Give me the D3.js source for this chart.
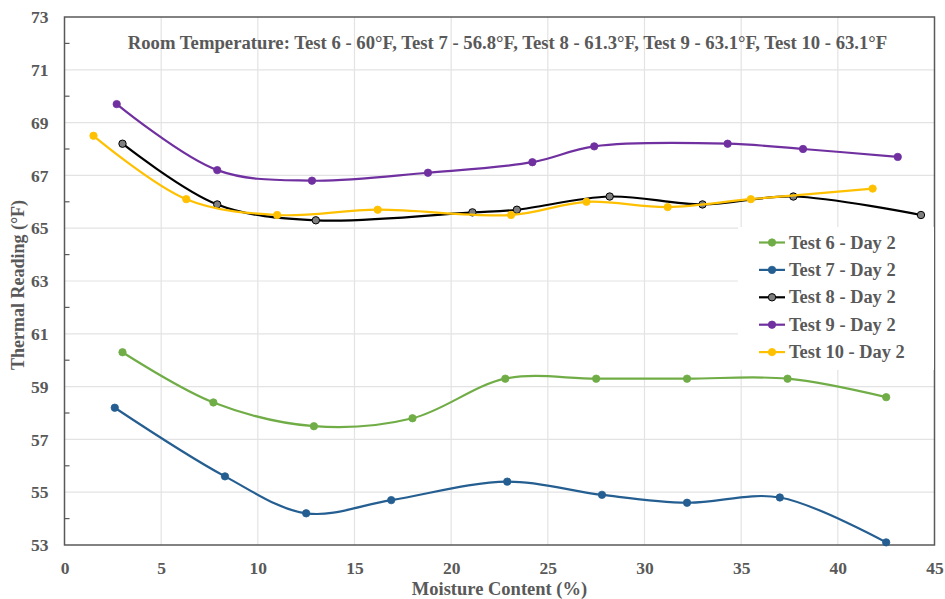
<!DOCTYPE html>
<html>
<head>
<meta charset="utf-8">
<script src="https://cdn.jsdelivr.net/npm/d3@7"></script>
<style>
  html, body { margin: 0; padding: 0; background: #fff; }
  svg { display: block; }
  text { font-family: "Liberation Serif", "Times New Roman", serif; font-weight: bold; fill: #595959; }
</style>
</head>
<body>
<svg id="chart" width="945" height="599"></svg>
<script>
// Moisture content (%) and thermal reading (°F) for each test, day 2
const test6X = [3.0, 7.7, 12.9, 18.0, 22.8, 27.5, 32.2, 37.4, 42.5];
const test6Y = [60.3, 58.4, 57.5, 57.8, 59.3, 59.3, 59.3, 59.3, 58.6];

const test7X = [2.6, 8.3, 12.5, 16.9, 22.9, 27.8, 32.2, 37.0, 42.5];
const test7Y = [58.2, 55.6, 54.2, 54.7, 55.4, 54.9, 54.6, 54.8, 53.1];

const test8X = [3.0, 7.9, 13.0, 21.1, 23.4, 28.2, 33.0, 37.7, 44.3];
const test8Y = [68.2, 65.9, 65.3, 65.6, 65.7, 66.2, 65.9, 66.2, 65.5];

const test9X = [2.7, 7.9, 12.8, 18.8, 24.2, 27.4, 34.3, 38.2, 43.1];
const test9Y = [69.7, 67.2, 66.8, 67.1, 67.5, 68.1, 68.2, 68.0, 67.7];

const test10X = [1.5, 6.3, 11.0, 16.2, 23.1, 27.0, 31.2, 35.5, 41.8];
const test10Y = [68.5, 66.1, 65.5, 65.7, 65.5, 66.0, 65.8, 66.1, 66.5];

const seriesNames = ["Test 6 - Day 2", "Test 7 - Day 2", "Test 8 - Day 2", "Test 9 - Day 2", "Test 10 - Day 2"];
const seriesX = [test6X, test7X, test8X, test9X, test10X];
const seriesY = [test6Y, test7Y, test8Y, test9Y, test10Y];

const xTicks = [0, 5, 10, 15, 20, 25, 30, 35, 40, 45];
const yTicks = [53, 55, 57, 59, 61, 63, 65, 67, 69, 71, 73];
const yMinorTicks = [54, 56, 58, 60, 62, 64, 66, 68, 70, 72];

const titleText = "Room Temperature: Test 6 - 60°F, Test 7 - 56.8°F, Test 8 - 61.3°F, Test 9 - 63.1°F, Test 10 - 63.1°F";
const xTitle = "Moisture Content (%)";
const yTitle = "Thermal Reading (°F)";

// Line and marker styling per series
const lineColors = ["#70AD47", "#255E91", "#000000", "#7030A0", "#FFC000"];
const markerFill = ["#70AD47", "#255E91", "#7F7F7F", "#7030A0", "#FFC000"];
const markerStroke = ["#70AD47", "#255E91", "#000000", "#7030A0", "#FFC000"];

const svg = d3.select("#chart");
const plot = { left: 64.5, right: 934.5, top: 17, bottom: 545 };

const x = d3.scaleLinear().domain([0, 45]).range([plot.left, plot.right]);
const y = d3.scaleLinear().domain([53, 73]).range([plot.bottom, plot.top]);

// Gridlines
const grid = svg.append("g");
grid.selectAll("line.v").data(xTicks.slice(1, -1)).join("line")
  .attr("x1", d => x(d)).attr("x2", d => x(d))
  .attr("y1", plot.top).attr("y2", plot.bottom)
  .attr("stroke", "#E3E3E3").attr("stroke-width", 1.2);
grid.selectAll("line.h").data(yTicks.slice(1, -1)).join("line")
  .attr("x1", plot.left).attr("x2", plot.right)
  .attr("y1", d => y(d)).attr("y2", d => y(d))
  .attr("stroke", "#E3E3E3").attr("stroke-width", 1.2);

// Plot frame
svg.append("rect")
  .attr("x", plot.left).attr("y", plot.top)
  .attr("width", plot.right - plot.left).attr("height", plot.bottom - plot.top)
  .attr("fill", "none").attr("stroke", "#595959").attr("stroke-width", 1.5);

// Inward minor ticks on the y axis
svg.append("g").selectAll("line").data(yMinorTicks).join("line")
  .attr("x1", plot.left).attr("x2", plot.left + 5)
  .attr("y1", d => y(d)).attr("y2", d => y(d))
  .attr("stroke", "#595959").attr("stroke-width", 1.2);

// Axes (labels only)
const xAxis = svg.append("g").attr("transform", `translate(0,${plot.bottom})`)
  .call(d3.axisBottom(x).tickValues(xTicks).tickSize(0).tickPadding(17));
xAxis.select(".domain").remove();
xAxis.selectAll("text").style("font-size", "17.5px").attr("fill", "#595959")
  .style("font-family", "'Liberation Serif', serif").style("font-weight", "bold");

const yAxis = svg.append("g").attr("transform", `translate(${plot.left},0)`)
  .call(d3.axisLeft(y).tickValues(yTicks).tickSize(0).tickPadding(16));
yAxis.select(".domain").remove();
yAxis.selectAll("text").style("font-size", "17.5px").attr("fill", "#595959")
  .style("font-family", "'Liberation Serif', serif").style("font-weight", "bold");

// Axis titles
svg.append("text").attr("x", 499.5).attr("y", 594.5)
  .attr("text-anchor", "middle").style("font-size", "18.5px").text(xTitle);
svg.append("text").attr("transform", `translate(24,${(plot.top + plot.bottom) / 2 + 4}) rotate(-90)`)
  .attr("text-anchor", "middle").style("font-size", "18px").text(yTitle);

// Series lines and markers
const line = d3.line().curve(d3.curveCatmullRom.alpha(0.5));
seriesNames.forEach((name, i) => {
  const pts = seriesX[i].map((v, j) => [x(v), y(seriesY[i][j])]);
  const g = svg.append("g");
  g.append("path").attr("d", line(pts)).attr("fill", "none")
    .attr("stroke", lineColors[i]).attr("stroke-width", 2.2);
  g.selectAll("circle").data(pts).join("circle")
    .attr("cx", d => d[0]).attr("cy", d => d[1]).attr("r", 3.7)
    .attr("fill", markerFill[i]).attr("stroke", markerStroke[i]).attr("stroke-width", i === 2 ? 1 : 0.8);
});

// Chart title
svg.append("text").attr("x", 507.5).attr("y", 48.5)
  .attr("text-anchor", "middle").style("font-size", "18.7px").text(titleText);

// Legend
const legend = svg.append("g");
legend.append("rect").attr("x", 738).attr("y", 227).attr("width", 196).attr("height", 143).attr("fill", "#fff");
seriesNames.forEach((name, i) => {
  const ly = 242.5 + i * 27.4;
  legend.append("line").attr("x1", 759).attr("x2", 785).attr("y1", ly).attr("y2", ly)
    .attr("stroke", lineColors[i]).attr("stroke-width", 2.2);
  legend.append("circle").attr("cx", 772).attr("cy", ly).attr("r", 3.7)
    .attr("fill", markerFill[i]).attr("stroke", markerStroke[i]).attr("stroke-width", i === 2 ? 1 : 0.8);
  legend.append("text").attr("x", 789).attr("y", ly + 6).style("font-size", "18.4px").text(name);
});
</script>
</body>
</html>
